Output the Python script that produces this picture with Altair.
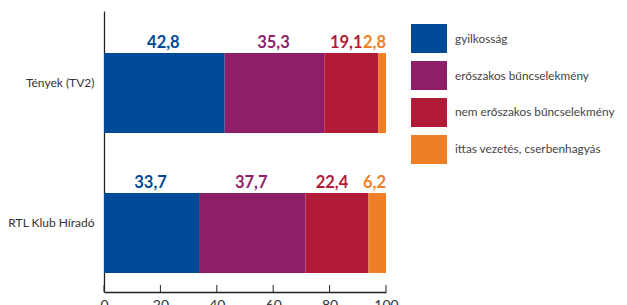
import altair as alt
import pandas as pd

shows = ["Tények (TV2)", "RTL Klub Híradó"]
categories = ["gyilkosság", "erőszakos bűncselekmény", "nem erőszakos bűncselekmény", "ittas vezetés, cserbenhagyás"]
colors = ["#004A98", "#8E1E6A", "#B21B37", "#EF7F26"]
values_tv2 = [42.8, 35.3, 19.1, 2.8]
values_rtl = [33.7, 37.7, 22.4, 6.2]
ticks = [0, 20, 40, 60, 80, 100]

rows = []
for show, vals in zip(shows, [values_tv2, values_rtl]):
    start = 0.0
    for i, (cat, v) in enumerate(zip(categories, vals)):
        last = i == len(categories) - 1
        rows.append({"show": show, "cat": cat, "order": i, "value": v,
                     "start": start, "end": start + v,
                     "pos": start + v if last else start + v / 2,
                     "grp": "last" if last else ("red" if i == 2 else "mid"),
                     "label": f"{v:.1f}".replace(".", ",")})
        start += v
df = pd.DataFrame(rows)

H = 281
W = 282
FONT = "Lato"

color_scale = alt.Scale(domain=categories, range=colors)
yscale = alt.Scale(domain=shows, paddingInner=0.4286, paddingOuter=0.218, align=0.69)
xscale = alt.Scale(domain=[0, 100], nice=False)

base = alt.Chart(df)

bars = base.mark_bar(size=80).encode(
    x=alt.X("start:Q", scale=xscale,
            axis=alt.Axis(values=ticks, title=None, grid=False, tickSize=0, labelPadding=6,
                          labelFontSize=14, labelColor="#333", labelFont=FONT, labelFlush=False,
                          domainColor="#222", domainWidth=1.3)),
    x2="end:Q",
    y=alt.Y("show:N", scale=yscale, sort=shows,
            axis=alt.Axis(title=None, ticks=False, labelPadding=10, labelFontSize=12,
                          labelColor="#333", labelFont=FONT, labelOffset=-10,
                          domainColor="#222", domainWidth=1.3,
                          minExtent=96, maxExtent=96)),
    color=alt.Color("cat:N", scale=color_scale, legend=None),
)

def label_layer(grp, align, dx):
    return base.transform_filter(alt.datum.grp == grp).mark_text(
        fontSize=16.5, fontWeight="bold", font=FONT, baseline="alphabetic",
        align=align, dx=dx, dy=-5).encode(
        x=alt.X("pos:Q", scale=xscale),
        y=alt.Y("show:N", scale=yscale, sort=shows, bandPosition=0),
        text="label:N",
        color=alt.Color("cat:N", scale=color_scale, legend=None),
    )

texts_mid = label_layer("mid", "center", -1)
texts_red = label_layer("red", "center", -5)
texts_last = label_layer("last", "right", 0)

tick_df = pd.DataFrame({"t": ticks})
tick_marks = alt.Chart(tick_df).mark_rule(color="#222", strokeWidth=1).encode(
    x=alt.X("t:Q", scale=xscale),
    y=alt.value(H - 7),
    y2=alt.value(H),
)

main = alt.layer(bars, texts_mid, texts_red, texts_last, tick_marks)

leg_df = pd.DataFrame({"cat": categories})
lyscale = alt.Scale(domain=categories, range=[13, 153], paddingInner=0.216, paddingOuter=0)
leg_rect = alt.Chart(leg_df).mark_rect().encode(
    x=alt.value(W + 25), x2=alt.value(W + 61),
    y=alt.Y("cat:N", scale=lyscale, sort=categories, axis=None),
    color=alt.Color("cat:N", scale=color_scale, legend=None),
)
leg_text = alt.Chart(leg_df).mark_text(align="left", baseline="middle", fontSize=11.8,
                                       font=FONT, color="#444").encode(
    x=alt.value(W + 69),
    y=alt.Y("cat:N", scale=lyscale, sort=categories, axis=None),
    text="cat:N",
)
legend = alt.layer(leg_rect, leg_text)

chart = alt.layer(main, legend).resolve_scale(y="independent").properties(
    width=W, height=H,
    autosize=alt.AutoSizeParams(type="none"),
    padding={"left": 96, "top": 3, "right": 611 - 96 - W, "bottom": 14},
).configure_view(stroke=None)

chart.save("out.html", embed_options={"renderer": "svg", "actions": False})
